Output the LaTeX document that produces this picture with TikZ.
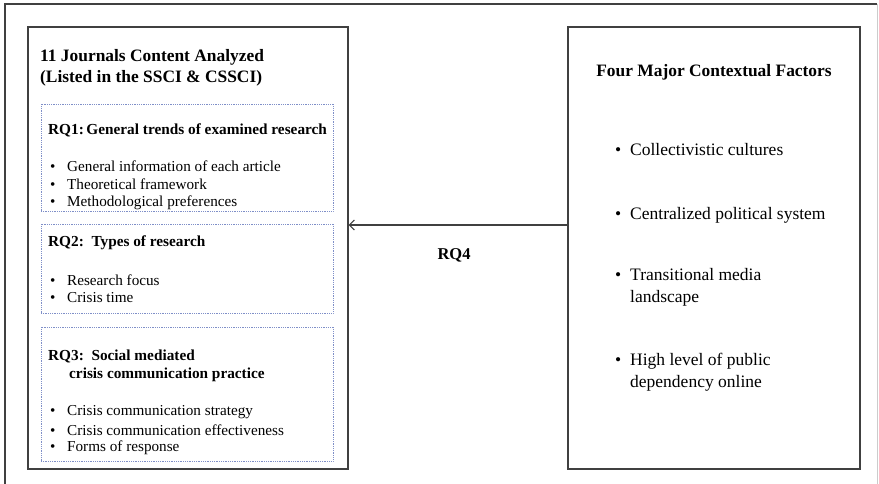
\documentclass[tikz,border=0pt]{standalone}
\usepackage{fontspec}
\setmainfont{Liberation Serif}
\usetikzlibrary{arrows.meta}
\definecolor{framegray}{HTML}{404040}
\definecolor{dotblue}{HTML}{7F8FC8}
\tikzset{
  bigbox/.style={draw=framegray, line width=1.4pt, fill=white, inner sep=0pt},
  subbox/.style={draw=dotblue, line width=0.8pt, densely dotted, inner sep=0pt},
  ttl/.style={anchor=west, inner sep=0pt, font=\fontsize{15.3}{20}\selectfont\bfseries, align=left},
  htl/.style={anchor=west, inner sep=0pt, font=\fontsize{17.4}{20}\selectfont\bfseries, align=left},
  itm/.style={anchor=west, inner sep=0pt, font=\fontsize{15.2}{18.5}\selectfont},
  ritm/.style={anchor=west, inner sep=0pt, font=\fontsize{17.5}{22}\selectfont, align=left},
  arr/.style={draw=framegray, line width=1.2pt, -{Straight Barb[length=5pt,width=10pt,line width=1pt]}}
}
\newcommand{\bul}{\makebox[17pt][l]{•}}
\newcommand{\rbul}{\makebox[15pt][l]{•}}
\begin{document}
\begin{tikzpicture}[x=1pt,y=-1pt]
\useasboundingbox (0,0) rectangle (879,484);
\fill[white] (0,0) rectangle (879,484);
% outer frame
\draw[framegray, line width=1.2pt] (5,484) -- (5,4) -- (877,4);
\draw[gray!40, line width=0.8pt] (877,4) -- (877,484);
% main boxes
\node[bigbox, minimum width=320pt, minimum height=442pt] (left) at (188,248) {};
\node[bigbox, minimum width=292pt, minimum height=442pt] (right) at (714,248) {};
% sub boxes
\node[subbox, minimum width=292pt, minimum height=107pt] (rq1) at (187,157.5) {};
\node[subbox, minimum width=292pt, minimum height=89pt] (rq2) at (187,268.5) {};
\node[subbox, minimum width=292pt, minimum height=134pt] (rq3) at (187,394) {};
% left titles
\node[htl] (t1) at (40,57) {11 Journals Content Analyzed};
\node[htl] (t2) at (40,78) {(Listed in the SSCI \& CSSCI)};
\node[ttl] (q1) at (48,130) {RQ1:\,General trends of examined research};
\node[itm] (q1a) at (50,166) {\bul General information of each article};
\node[itm] (q1b) at (50,184.5) {\bul Theoretical framework};
\node[itm] (q1c) at (50,203) {\bul Methodological preferences};
\node[ttl] (q2) at (48,243) {RQ2:\ \ Types of research};
\node[itm] (q2a) at (50,280) {\bul Research focus};
\node[itm] (q2b) at (50,298) {\bul Crisis time};
\node[ttl] (q3) at (48,356) {RQ3:\ \ Social mediated};
\node[ttl] (q3b) at (69,375) {crisis communication practice};
\node[itm] (q3c) at (50,412) {\bul Crisis communication strategy};
\node[itm] (q3d) at (50,430) {\bul Crisis communication effectiveness};
\node[itm] (q3e) at (50,448) {\bul Forms of response};
% right
\node[htl, anchor=center] (f) at (714,72) {Four Major Contextual Factors};
\node[ritm] (f1) at (615,150) {\rbul Collectivistic cultures};
\node[ritm] (f2) at (615,215) {\rbul Centralized political system};
\node[ritm, anchor=north west] (f3) at (615,268) {\rbul Transitional media\\\hspace*{15pt}landscape};
\node[ritm, anchor=north west] (f4) at (615,353) {\rbul High level of public\\\hspace*{15pt}dependency online};
% arrow
\coordinate (ay) at (0,225);
\draw[arr] (right.west |- ay) -- (left.east |- ay);
\node[ttl, anchor=center, font=\fontsize{16.5}{20}\selectfont\bfseries] (rq4) at (454,255) {RQ4};
\end{tikzpicture}
\end{document}
